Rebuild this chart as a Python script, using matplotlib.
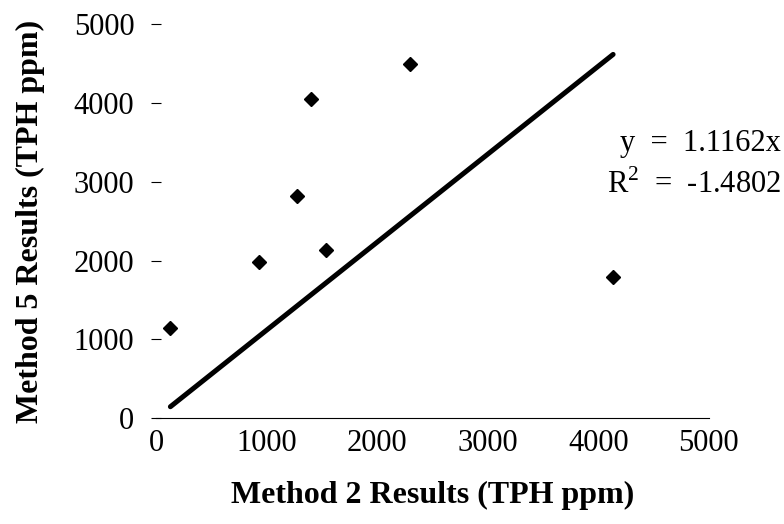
# Method 2 vs Method 5 TPH results, scatter with forced-through-zero trendline

import matplotlib
matplotlib.use("Agg")
import matplotlib.pyplot as plt
import numpy as np

# ==============================================================================

method2 = [130, 930, 1275, 1400, 1540, 2300, 4135]     # x, TPH ppm
method5 = [1150, 1980, 2820, 4050, 2130, 4490, 1790]   # y, TPH ppm
slope = 1.1162
r2 = -1.4802
ticks = [0, 1000, 2000, 3000, 4000, 5000]

# ------------------------------------------------------------------------------

plt.rcParams["font.family"] = ["Liberation Serif", "DejaVu Serif"]
plt.rcParams["mathtext.fontset"] = "custom"
plt.rcParams["mathtext.rm"] = "Liberation Serif"

fig = plt.figure(figsize=(7.84, 5.24), dpi=100)
ax = fig.add_axes([0.199, 0.202, 0.705, 0.752])

ax.plot(method2, method5, linestyle="none", marker="D", markersize=7.5,
        color="black", zorder=5)

xs = np.array([min(method2), max(method2)])
ax.plot(xs, slope * xs, color="black", lw=3.6, solid_capstyle="round")

ax.set_xlim(0, 5000)
ax.set_ylim(0, 5000)
ax.set_xticks(ticks)
ax.set_yticks(ticks)

for side in ["top", "right", "left"]:
  ax.spines[side].set_visible(False)
ax.spines["bottom"].set_linewidth(0.8)

ax.tick_params(axis="x", length=0, pad=8, labelsize=22)
ax.tick_params(axis="y", direction="inout", length=7, width=0.8, pad=12,
               labelsize=22)

ax.set_xlabel("Method 2 Results (TPH ppm)", fontsize=23, fontweight="bold",
              labelpad=16)
ax.set_ylabel("Method 5 Results (TPH ppm)", fontsize=23, fontweight="bold",
              labelpad=21)

fig.text(0.996, 0.727, f"y  =  {slope:.4f}x", ha="right", va="center",
         fontsize=22)
fig.text(0.996, 0.648, r"R$^{\mathrm{2}}$  =  " + f"{r2:.4f}", ha="right",
         va="center", fontsize=22)

fig.savefig("out.png", dpi=100)
